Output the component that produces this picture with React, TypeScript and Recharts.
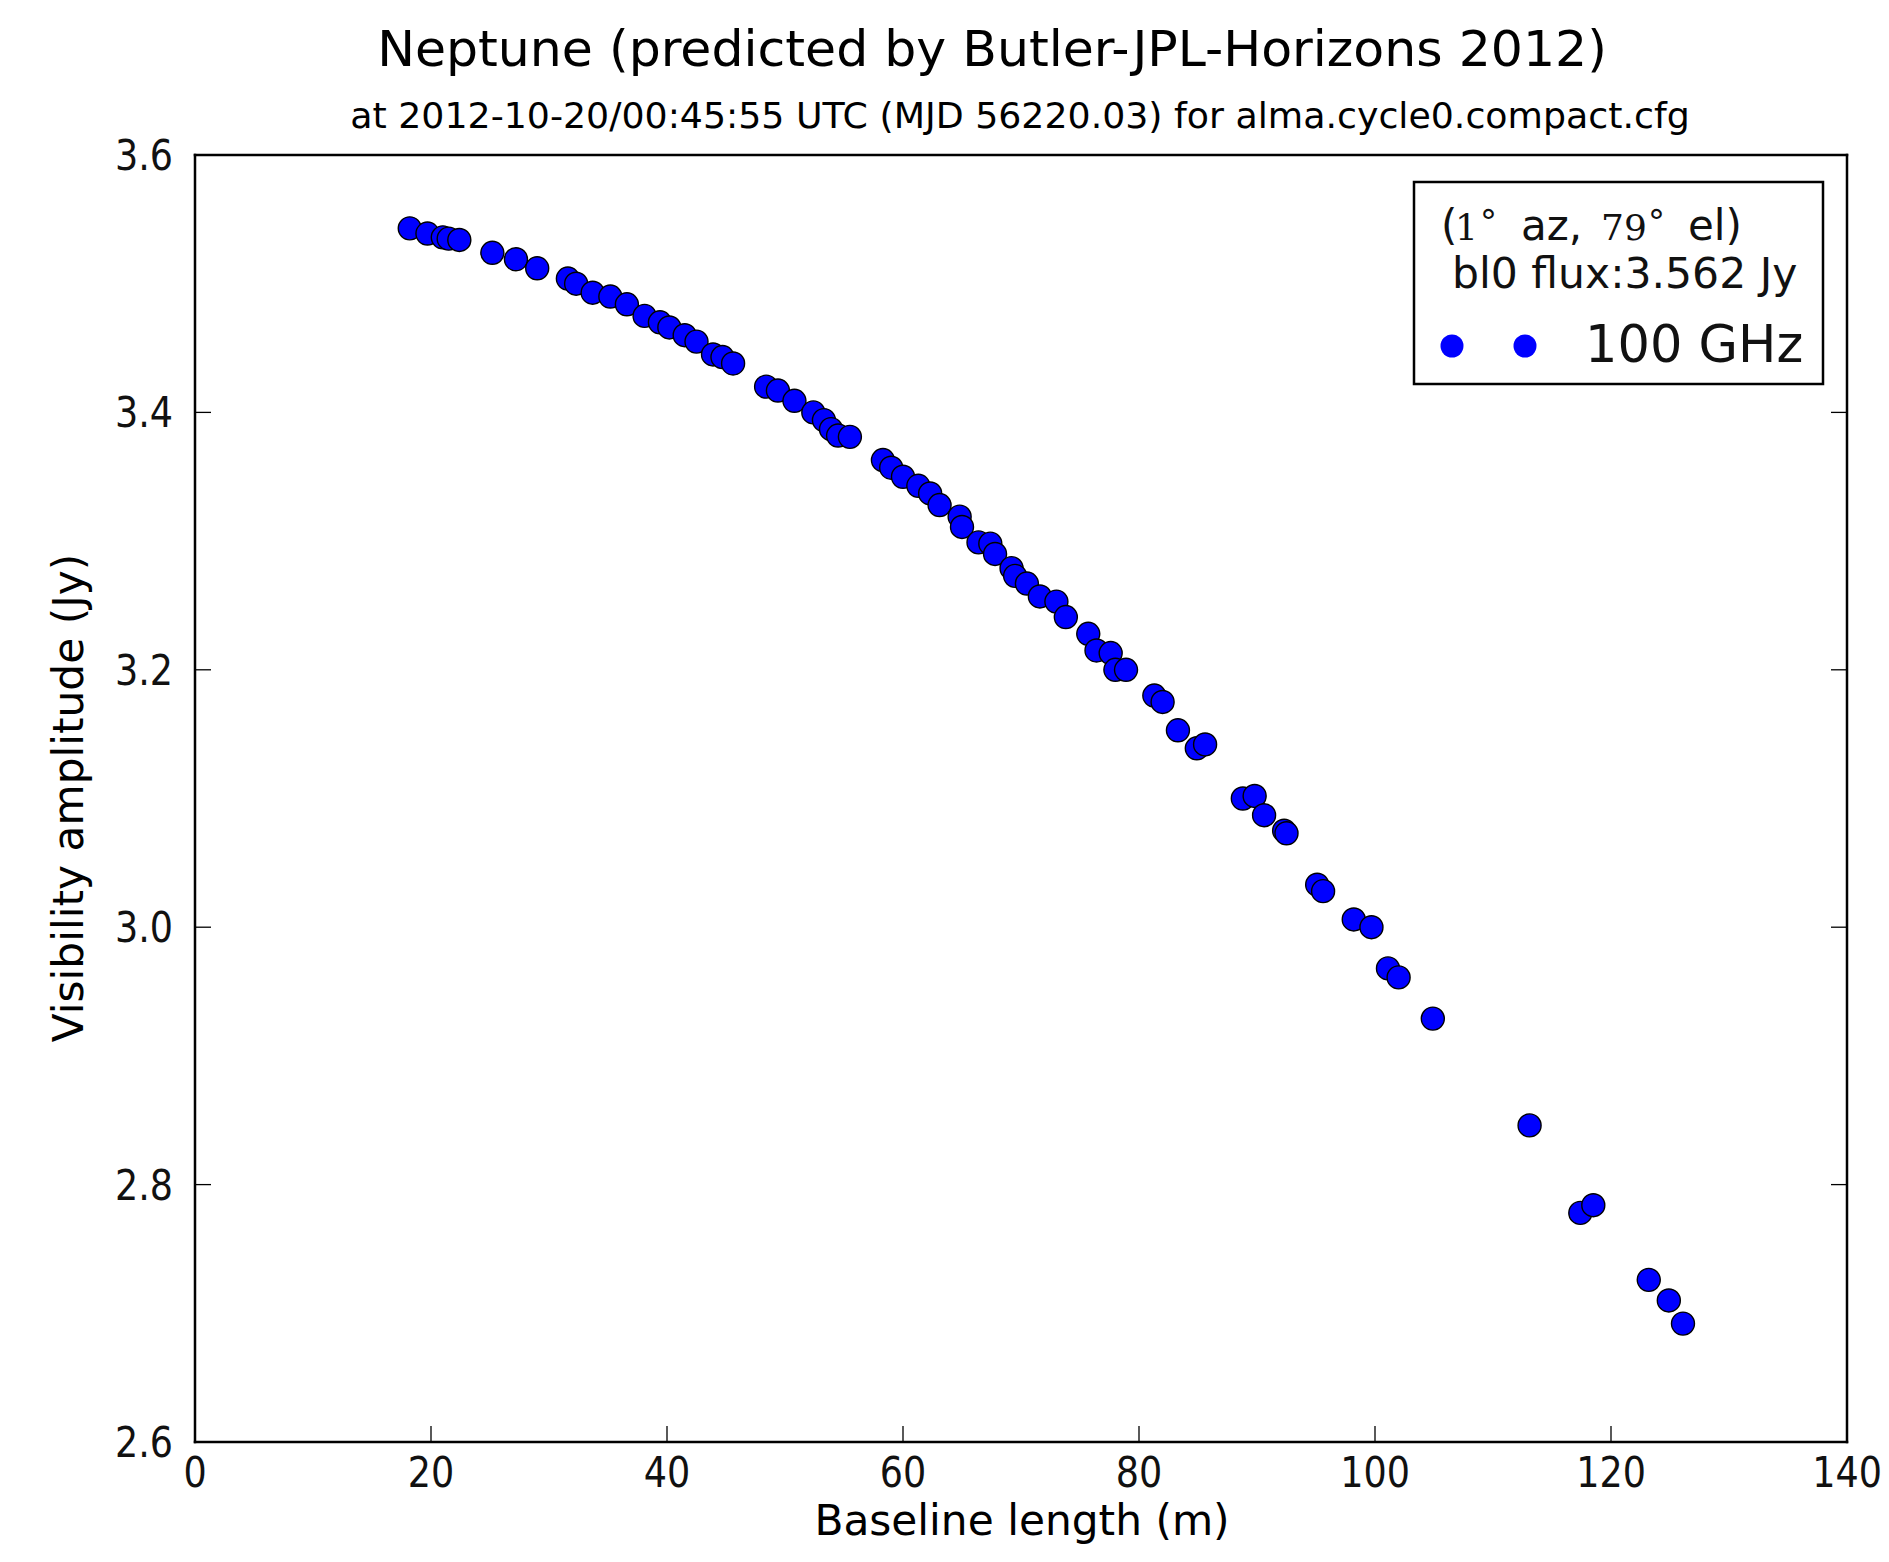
import React from "react";
import { ScatterChart, Scatter, XAxis, YAxis } from "recharts";

// baseline length (m) and visibility amplitude (Jy)
const baselineLength = [
  18.2, 19.7, 21.0, 21.5, 22.4, 25.2, 27.2, 29.0, 31.6, 32.3,
  33.7, 35.2, 36.6, 38.1, 39.4, 40.2, 41.5, 42.5, 43.9, 44.7,
  45.6, 48.4, 49.4, 50.8, 52.4, 53.3, 53.9, 54.5, 55.5, 58.3,
  59.0, 60.0, 61.3, 62.3, 63.1, 64.8, 65.0, 66.4, 67.4, 67.8,
  69.2, 69.5, 70.5, 71.6, 73.0, 73.8, 75.7, 76.4, 77.6, 78.0,
  78.9, 81.3, 82.0, 83.3, 84.9, 85.6, 88.8, 89.8, 90.6, 92.3,
  92.5, 95.1, 95.6, 98.2, 99.7, 101.1, 102.0, 104.9, 113.1, 117.4,
  118.5, 123.2, 124.9, 126.1,
];
const amplitude = [
  3.543, 3.539, 3.536, 3.535, 3.534, 3.524, 3.519, 3.512, 3.504, 3.5,
  3.493, 3.49, 3.484, 3.475, 3.47, 3.466, 3.46, 3.455, 3.445, 3.443,
  3.438, 3.42, 3.417, 3.409, 3.4, 3.394, 3.387, 3.382, 3.381, 3.363,
  3.357, 3.35, 3.343, 3.337, 3.328, 3.319, 3.311, 3.299, 3.298, 3.29,
  3.279, 3.273, 3.267, 3.257, 3.253, 3.241, 3.228, 3.215, 3.213, 3.2,
  3.2, 3.18, 3.175, 3.153, 3.139, 3.142, 3.1, 3.102, 3.087, 3.075,
  3.073, 3.033, 3.028, 3.006, 3.0, 2.968, 2.961, 2.929, 2.846, 2.778,
  2.784, 2.726, 2.71, 2.692,
];
const xTicks = [0, 20, 40, 60, 80, 100, 120, 140];
const yTicks = [2.6, 2.8, 3.0, 3.2, 3.4, 3.6];

const title = "Neptune (predicted by Butler-JPL-Horizons 2012)";
const subtitle =
  "at 2012-10-20/00:45:55 UTC (MJD 56220.03) for alma.cycle0.compact.cfg";
const seriesName = "100 GHz";
const fluxText = "bl0 flux:3.562 Jy";

const data = baselineLength.map((x, i) => ({ x, y: amplitude[i] }));

const W = 1889;
const H = 1562;
const FONT = "'DejaVu Sans', 'Bitstream Vera Sans', sans-serif";
const SERIF = "'DejaVu Serif', serif";
const TICK = 16;
const frame = { stroke: "#000", strokeWidth: 2.5, strokeLinecap: "square" as const };

const tickText = (x: number, y: number, anchor: string, label: string) => (
  <text
    transform={`translate(${x},${y}) scale(0.85,1)`}
    textAnchor={anchor}
    fontFamily={FONT}
    fontSize={43}
    fill="#111"
  >
    {label}
  </text>
);

const BottomTick = (p: any) => (
  <g>
    <line x1={p.x} y1={p.y} x2={p.x} y2={p.y - TICK} stroke="#000" strokeWidth={1.3} />
    {tickText(p.x, p.y + 45, "middle", String(p.payload.value))}
  </g>
);
const TopTick = (p: any) => (
  <line x1={p.x} y1={p.y} x2={p.x} y2={p.y + TICK} stroke="#000" strokeWidth={1.3} />
);
const LeftTick = (p: any) => (
  <g>
    <line x1={p.x} y1={p.y} x2={p.x + TICK} y2={p.y} stroke="#000" strokeWidth={1.3} />
    {tickText(p.x - 22, p.y + 15, "end", Number(p.payload.value).toFixed(1))}
  </g>
);
const RightTick = (p: any) => (
  <line x1={p.x} y1={p.y} x2={p.x - TICK} y2={p.y} stroke="#000" strokeWidth={1.3} />
);

const Dot = (p: any) => (
  <circle cx={p.cx} cy={p.cy} r={11.5} fill="#0000ff" stroke="#000" strokeWidth={1.4} />
);

export default function App() {
  return (
    <div
      style={{
        position: "absolute",
        left: 0,
        top: 0,
        width: W,
        height: H,
        background: "#fff",
      }}
    >
      <ScatterChart
        width={W}
        height={H}
        margin={{ top: 145, right: 32, bottom: 60, left: 135 }}
      >
        <XAxis
          xAxisId="b"
          dataKey="x"
          type="number"
          domain={[0, 140]}
          ticks={xTicks}
          interval={0}
          height={60}
          tickSize={0}
          tickMargin={0}
          tick={BottomTick}
          tickLine={false}
          axisLine={frame}
          allowDataOverflow
        />
        <XAxis
          xAxisId="t"
          orientation="top"
          type="number"
          domain={[0, 140]}
          ticks={xTicks}
          interval={0}
          height={10}
          tickSize={0}
          tickMargin={0}
          tick={TopTick}
          tickLine={false}
          axisLine={frame}
          allowDataOverflow
        />
        <YAxis
          yAxisId="l"
          dataKey="y"
          type="number"
          domain={[2.6, 3.6]}
          ticks={yTicks}
          interval={0}
          width={60}
          tickSize={0}
          tickMargin={0}
          tick={LeftTick}
          tickLine={false}
          axisLine={frame}
          allowDataOverflow
        />
        <YAxis
          yAxisId="r"
          orientation="right"
          type="number"
          domain={[2.6, 3.6]}
          ticks={yTicks}
          interval={0}
          width={10}
          tickSize={0}
          tickMargin={0}
          tick={RightTick}
          tickLine={false}
          axisLine={frame}
          allowDataOverflow
        />
        <Scatter
          name={seriesName}
          data={data}
          xAxisId="b"
          yAxisId="l"
          shape={Dot}
          isAnimationActive={false}
        />
      </ScatterChart>

      <svg
        width={W}
        height={H}
        style={{ position: "absolute", left: 0, top: 0, pointerEvents: "none" }}
        fontFamily={FONT}
      >
        <text x={992} y={66} textAnchor="middle" fontSize={50.5} fill="#000">
          {title}
        </text>
        <text x={1020} y={128} textAnchor="middle" fontSize={36.3} fill="#000">
          {subtitle}
        </text>
        <text x={1022} y={1535} textAnchor="middle" fontSize={42.3} fill="#000">
          Baseline length (m)
        </text>
        <text
          transform="translate(83,798) rotate(-90)"
          textAnchor="middle"
          fontSize={42.3}
          fill="#000"
        >
          Visibility amplitude (Jy)
        </text>

        {/* legend box */}
        <rect x={1414} y={182} width={409} height={202} fill="#fff" stroke="#000" strokeWidth={2.5} />
        <text x={1441} y={240} fontSize={42} fill="#111">(</text>
        <text x={1455} y={240} fontFamily={SERIF} fontSize={36} fill="#111">1</text>
        <text x={1480} y={234} fontSize={34} fill="#111">°</text>
        <text x={1521} y={240} fontSize={42} fill="#111">az,</text>
        <text x={1601} y={240} fontFamily={SERIF} fontSize={36} fill="#111">79</text>
        <text x={1648} y={234} fontSize={34} fill="#111">°</text>
        <text x={1688} y={240} fontSize={42} fill="#111">el)</text>
        <text x={1452} y={288} fontSize={42.5} fill="#111">
          {fluxText}
        </text>
        <circle cx={1452} cy={346} r={11.5} fill="#0000ff" />
        <circle cx={1525} cy={346} r={11.5} fill="#0000ff" />
        <text x={1585} y={362} fontSize={51} fill="#111">
          {seriesName}
        </text>
      </svg>
    </div>
  );
}
